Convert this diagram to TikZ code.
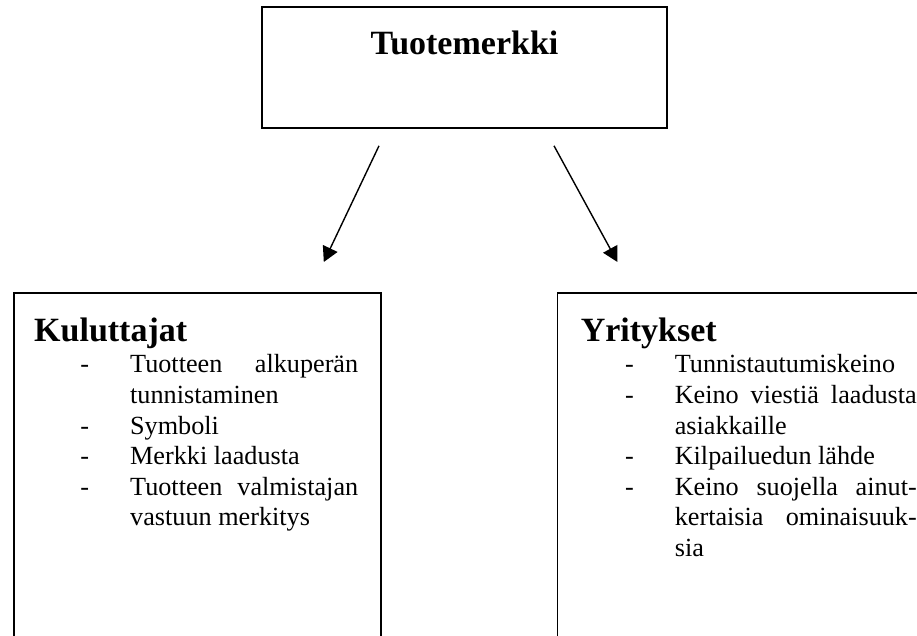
\documentclass[tikz,border=0pt]{standalone}
\usepackage{fontspec}
\setmainfont{Liberation Serif}
\usepackage{tikz}
\usetikzlibrary{arrows.meta,positioning}
\hyphenpenalty=10000
\newcommand{\kohta}{\leavevmode\llap{-\hspace{41pt}}}
\tikzset{
  kk laatikko/.style={
    rectangle,
    draw=black,
    line width=1.6pt,
    inner sep=0pt,
  },
  kk otsikko/.style={
    font=\fontsize{34}{40}\selectfont\bfseries,
    inner sep=0pt,
  },
  kk teksti/.style={
    font=\fontsize{26.2}{30.6}\selectfont,
    align=justify,
    inner sep=0pt,
  },
  kk nuoli/.style={-{Triangle[length=15pt,width=16pt]}, line width=1.4pt},
}

\begin{document}
\begin{tikzpicture}[x=1pt,y=1pt]
  \useasboundingbox (0,0) rectangle (917,636);
  \clip (0,0) rectangle (917,636);

  \node[kk laatikko,minimum width=405pt,minimum height=121pt] (tm) at (464.5,568.5) {};
  \node[kk otsikko,anchor=base] (tmotsikko) at ([yshift=-48pt]tm.north) {Tuotemerkki};

  \node[kk laatikko,minimum width=367pt,minimum height=380pt,anchor=north west] (kul) at (13,344) {};
  \node[kk laatikko,minimum width=382pt,minimum height=380pt,right=175pt of kul.north east,anchor=north west] (yri) {};

  % otsikot ja luettelot
  \node[kk otsikko,anchor=base west] (kulotsikko) at ([xshift=21pt,yshift=-50pt]kul.north west) {Kuluttajat};
  \node[kk teksti,text width=228pt,anchor=base west] (kulteksti) at ([xshift=96pt,yshift=-31pt]kulotsikko.base west) {%
    \kohta Tuotteen alkuperän\linebreak tunnistaminen\par
    \kohta Symboli\par
    \kohta Merkki laadusta\par
    \kohta Tuotteen valmistajan\linebreak vastuun merkitys};

  \node[kk otsikko,anchor=base west] (yriotsikko) at ([xshift=24pt,yshift=-50pt]yri.north west) {Yritykset};
  \node[kk teksti,text width=242pt,anchor=base west] (yriteksti) at ([xshift=94pt,yshift=-31pt]yriotsikko.base west) {%
    \kohta Tunnistautumiskeino\par
    \kohta Keino viestiä laadusta\linebreak asiakkaille\par
    \kohta Kilpailuedun lähde\par
    \kohta Keino suojella ainut-\linebreak kertaisia ominaisuuk-\linebreak sia};

  % nuolet
  \coordinate (vasenA) at ([xshift=-85.5pt,yshift=-17pt]tm.south);
  \coordinate (vasenL) at ([xshift=126.5pt,yshift=30pt]kul.north);
  \coordinate (oikeaA) at ([xshift=89.5pt,yshift=-17pt]tm.south);
  \coordinate (oikeaL) at ([xshift=-131pt,yshift=30pt]yri.north);
  \draw[kk nuoli] (vasenA) -- (vasenL);
  \draw[kk nuoli] (oikeaA) -- (oikeaL);
\end{tikzpicture}
\end{document}
